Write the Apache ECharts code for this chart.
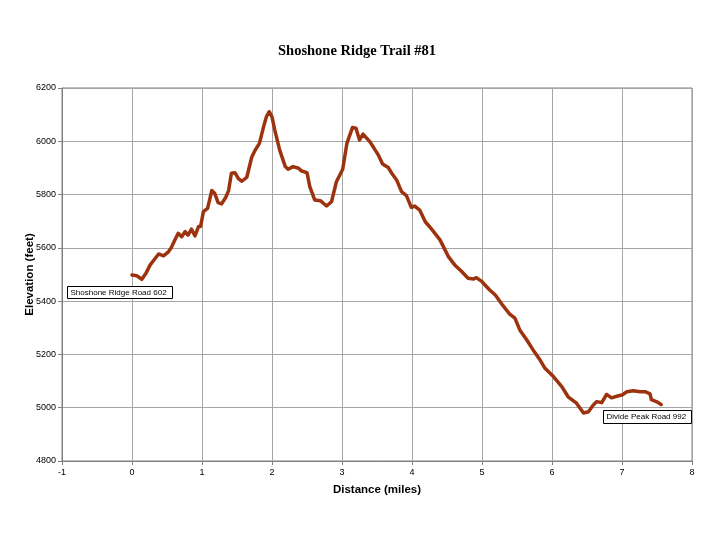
<!DOCTYPE html>
<html>
<head>
<meta charset="utf-8">
<script src="https://cdn.jsdelivr.net/npm/echarts@6/dist/echarts.min.js"></script>
<style>
  html, body { margin: 0; padding: 0; background: #fff; }
  #chart { width: 724px; height: 546px; }
</style>
</head>
<body>
<div id="chart"></div>
<script>
// distance along the trail (miles) and elevation (feet)
const distance = [
  0, 0.07, 0.14, 0.2, 0.26, 0.33, 0.38, 0.45, 0.52, 0.56, 0.6, 0.66, 0.71, 0.76, 0.8, 0.85, 0.9, 0.95, 0.98,
  1.02, 1.08, 1.14, 1.18, 1.23, 1.28, 1.34, 1.38, 1.42, 1.47, 1.52, 1.57, 1.64, 1.71, 1.76, 1.82, 1.88, 1.92, 1.96,
  2.0, 2.04, 2.11, 2.19, 2.23, 2.3, 2.38, 2.42, 2.5, 2.54, 2.61, 2.69, 2.78, 2.85, 2.92,
  3.01, 3.07, 3.15, 3.2, 3.25, 3.3, 3.4, 3.52, 3.58, 3.66, 3.71, 3.78, 3.85, 3.92, 3.99,
  4.04, 4.11, 4.19, 4.28, 4.4, 4.52, 4.61, 4.71, 4.8, 4.88, 4.92,
  5.0, 5.11, 5.19, 5.28, 5.4, 5.47, 5.54, 5.64, 5.73, 5.83, 5.9,
  6.02, 6.14, 6.23, 6.35, 6.45, 6.52, 6.59, 6.64, 6.71, 6.78, 6.85, 6.95,
  7.0, 7.07, 7.16, 7.26, 7.33, 7.4, 7.42, 7.49, 7.56
];
const elevation = [
  5498, 5495, 5482, 5505, 5536, 5560, 5577, 5570, 5585, 5600, 5623, 5655, 5642, 5661, 5648, 5670, 5645, 5680, 5680,
  5736, 5748, 5815, 5805, 5770, 5765, 5790, 5815, 5880, 5882, 5860, 5850, 5865, 5940, 5967, 5992, 6055, 6092, 6111,
  6092, 6042, 5967, 5905, 5895, 5905, 5899, 5889, 5882, 5830, 5780, 5777, 5757, 5773, 5848,
  5895, 5992, 6052, 6049, 6005, 6027, 5998, 5948, 5915, 5902, 5880, 5855, 5811, 5796, 5752,
  5757, 5742, 5698, 5670, 5630, 5567, 5536, 5511, 5486, 5483, 5488,
  5473, 5442, 5423, 5390, 5350, 5336, 5292, 5254, 5217, 5179, 5148,
  5117, 5079, 5041, 5017, 4980, 4985, 5010, 5023, 5019, 5050, 5037, 5045,
  5048, 5060, 5064, 5060, 5060, 5052, 5030, 5023, 5012
];
const trailName = 'Shoshone Ridge Trail #81';
const startLabel = 'Shoshone Ridge Road 602';
const endLabel = 'Divide Peak Road 992';

const chart = echarts.init(document.getElementById('chart'));

const labelFont = { fontFamily: 'Liberation Sans', fontSize: 9, color: '#000' };
const nameFont = { fontFamily: 'Liberation Sans', fontWeight: 'bold', fontSize: 11.5, color: '#000' };
const boxStyle = {
  fill: '#fff',
  stroke: '#000',
  lineWidth: 1
};

chart.setOption({
  animation: false,
  backgroundColor: '#fff',
  title: {
    text: trailName,
    left: 273,
    top: 39,
    textStyle: { fontFamily: 'Liberation Serif', fontWeight: 'bold', fontSize: 14.5, color: '#000' }
  },
  grid: { left: 62, right: 32, top: 88, bottom: 85, show: true, borderColor: '#808080', borderWidth: 1 },
  xAxis: {
    type: 'value',
    min: -1, max: 8, interval: 1,
    name: 'Distance (miles)',
    nameLocation: 'middle',
    nameGap: 23,
    nameTextStyle: nameFont,
    axisLine: { show: true, onZero: false, lineStyle: { color: '#808080' } },
    axisTick: { show: true, length: 4, lineStyle: { color: '#808080' } },
    axisLabel: Object.assign({ margin: 7 }, labelFont),
    splitLine: { show: true, lineStyle: { color: '#a6a6a6', width: 1 } }
  },
  yAxis: {
    type: 'value',
    min: 4800, max: 6200, interval: 200,
    name: 'Elevation (feet)',
    nameLocation: 'middle',
    nameGap: 26,
    nameMoveOverlap: false,
    nameTextStyle: nameFont,
    axisLine: { show: true, onZero: false, lineStyle: { color: '#808080' } },
    axisTick: { show: true, length: 4, lineStyle: { color: '#808080' } },
    axisLabel: Object.assign({ margin: 6, formatter: v => String(v) }, labelFont),
    splitLine: { show: true, lineStyle: { color: '#a6a6a6', width: 1 } }
  },
  series: [{
    type: 'line',
    data: distance.map((d, i) => [d, elevation[i]]),
    showSymbol: false,
    smooth: false,
    lineStyle: { color: '#9c330e', width: 3.5, join: 'round', cap: 'round' }
  }],
  graphic: [
    {
      type: 'group', left: 67, top: 286, z: 100,
      children: [
        { type: 'rect', z: 100, shape: { x: 0, y: 0, width: 105, height: 12 }, style: boxStyle },
        { type: 'text', z: 101, x: 3, y: 2, style: { text: startLabel, font: '8px "Liberation Sans"', fill: '#000' } }
      ]
    },
    {
      type: 'group', left: 603, top: 410, z: 100,
      children: [
        { type: 'rect', z: 100, shape: { x: 0, y: 0, width: 88, height: 13 }, style: boxStyle },
        { type: 'text', z: 101, x: 3, y: 2.5, style: { text: endLabel, font: '8px "Liberation Sans"', fill: '#000' } }
      ]
    }
  ]
});

window.addEventListener('resize', () => chart.resize());
</script>
</body>
</html>
